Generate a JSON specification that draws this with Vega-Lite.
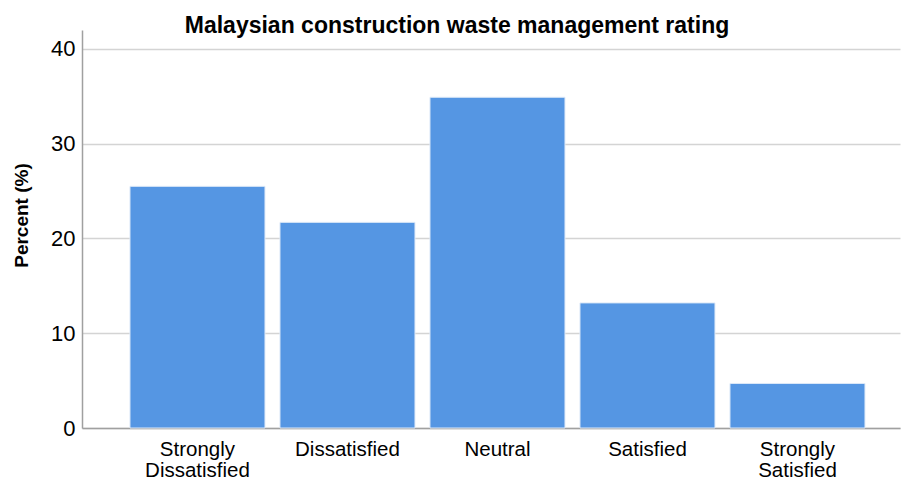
{
  "$schema": "https://vega.github.io/schema/vega-lite/v6.json",
  "autosize": "none",
  "width": 818,
  "height": 398,
  "padding": {"left": 82, "top": 30, "right": 1, "bottom": 53},
  "background": "white",
  "title": {
    "text": "Malaysian construction waste management rating",
    "font": "Liberation Sans",
    "fontSize": 23,
    "fontWeight": "bold",
    "color": "#000000",
    "anchor": "middle",
    "dx": -34,
    "baseline": "alphabetic",
    "offset": -26
  },
  "data": {
    "values": [
      {"rating": "Strongly Dissatisfied", "percent": 25.5},
      {"rating": "Dissatisfied", "percent": 21.7},
      {"rating": "Neutral", "percent": 34.9},
      {"rating": "Satisfied", "percent": 13.2},
      {"rating": "Strongly Satisfied", "percent": 4.7}
    ]
  },
  "mark": {"type": "bar", "color": "#5596e3", "stroke": "#dde9f8", "strokeWidth": 1},
  "encoding": {
    "x": {
      "field": "rating",
      "type": "nominal",
      "sort": null,
      "scale": {"paddingInner": 0.1, "paddingOuter": 0.2767, "align": 0.578},
      "axis": {
        "title": null,
        "labelAngle": 0,
        "labelExpr": "split(datum.label, ' ')",
        "labelFont": "Liberation Sans",
        "labelFontSize": 20.5,
        "labelColor": "#000000",
        "labelLineHeight": 21,
        "labelPadding": 11,
        "ticks": false,
        "domainColor": "#a0a0a0",
        "domainWidth": 1.5,
        "grid": false
      }
    },
    "y": {
      "field": "percent",
      "type": "quantitative",
      "scale": {"domain": [0, 42], "nice": false},
      "axis": {
        "title": "Percent (%)",
        "titleFont": "Liberation Sans",
        "titleFontSize": 19,
        "titleFontWeight": "bold",
        "titleColor": "#000000",
        "titleAngle": 270,
        "titleAlign": "center",
        "titleBaseline": "middle",
        "titleX": -61,
        "titleY": 185,
        "values": [0, 10, 20, 30, 40],
        "labelFont": "Liberation Sans",
        "labelFontSize": 22,
        "labelColor": "#000000",
        "labelPadding": 7,
        "ticks": false,
        "domainColor": "#a0a0a0",
        "domainWidth": 1.5,
        "grid": true,
        "gridColor": "#d4d4d4",
        "gridWidth": 1.5
      }
    }
  },
  "config": {
    "view": {"stroke": null}
  }
}
